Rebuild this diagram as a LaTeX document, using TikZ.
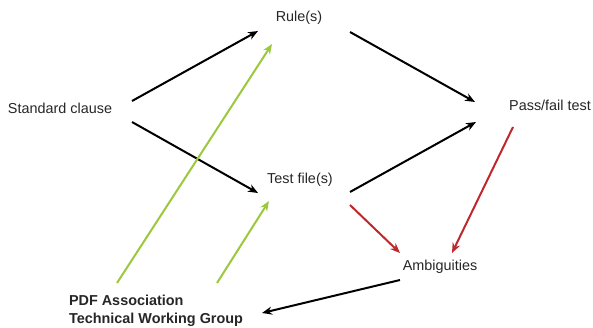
\documentclass[tikz,border=0pt]{standalone}
\usepackage{fontspec}
\setmainfont{Liberation Sans}
\usetikzlibrary{arrows.meta,positioning}
\definecolor{tgreen}{RGB}{155,200,60}
\definecolor{tred}{RGB}{192,39,45}

\begin{document}
\begin{tikzpicture}[x=1pt,y=-1pt,>={Stealth[length=10pt,width=8pt]},
  line width=2pt,
  textnode/.style={inner sep=0pt, text=black!85, font=\fontsize{14.4}{18}\selectfont},
  flow/.style={->, black},
  fix/.style={->, tred},
  work/.style={->, tgreen},
]
\useasboundingbox (0,0) rectangle (593,328);

\node[textnode] (sc) at (60,108) {Standard clause};
\node[textnode] (rule) at (299,18) {Rule(s)};
\node[textnode] (pass) at (550,105) {Pass/fail test};
\node[textnode] (test) at (300,180) {Test file(s)};
\node[textnode] (amb) at (440,267) {Ambiguities};
\node[textnode, align=left, font=\fontsize{14.4}{18}\selectfont\bfseries] (pdf) at (156,311)
  {PDF Association\\Technical Working Group};

% main flow
\draw[flow] ([shift={(72,-7)}]sc.center) -- ([shift={(-41,13)}]rule.center);
\draw[flow] ([shift={(72,14)}]sc.center) -- ([shift={(-42,13)}]test.center);
\draw[flow] ([shift={(51,14)}]rule.center) -- ([shift={(-75,-3)}]pass.center);
\draw[flow] ([shift={(50,12)}]test.center) -- ([shift={(-74,17)}]pass.center);

% ambiguities
\draw[fix] ([shift={(50,25)}]test.center) -- ([shift={(-40,-14)}]amb.center);
\draw[fix] ([shift={(-37,22)}]pass.center) -- ([shift={(12,-14)}]amb.center);
\draw[flow] ([shift={(-40,13)}]amb.center) -- ([shift={(106,2)}]pdf.center);

% working group
\draw[work] ([shift={(-39,-28)}]pdf.center) -- ([shift={(-27,26)}]rule.center);
\draw[work] ([shift={(61,-28)}]pdf.center) -- ([shift={(-31,21)}]test.center);

\end{tikzpicture}
\end{document}
